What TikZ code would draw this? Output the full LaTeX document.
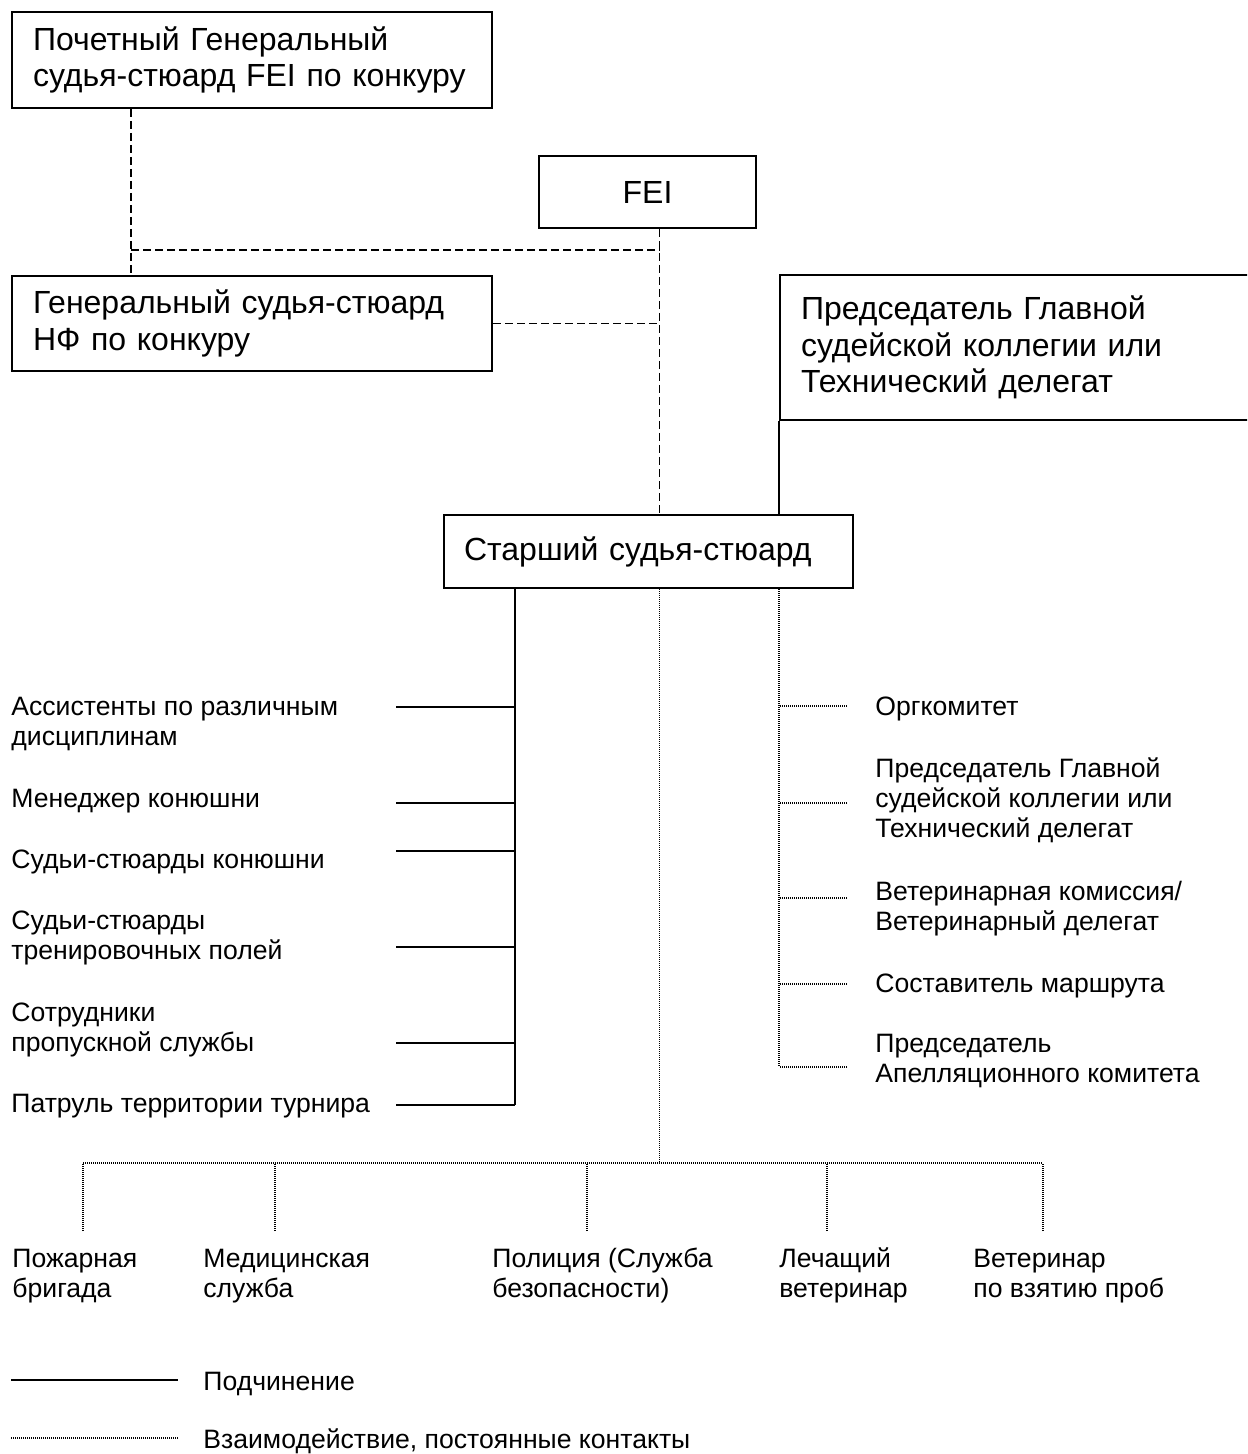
\documentclass[tikz,border=0pt]{standalone}
\usepackage{fontspec}
\setmainfont{Liberation Sans}
\usetikzlibrary{positioning}

\newcommand{\boxfont}{\fontsize{16}{18.3}\selectfont}
\newcommand{\listfont}{\fontsize{13.3}{15}\selectfont}

\begin{document}
\begin{tikzpicture}[x=0.5pt, y=-0.5pt]

\tikzset{
  post/.style={rectangle, draw=black, line width=1pt, font=\boxfont, align=left,
    anchor=north west, inner xsep=10.5pt, inner ysep=0pt},
  member/.style={font=\listfont, align=left, anchor=base west, inner sep=0pt},
  subord/.style={line width=1pt},
  link/.style={line width=0.7pt, dash pattern=on 4pt off 2pt},
  contact/.style={line width=0.6pt, dash pattern=on 0.5pt off 0.5pt},
}

\useasboundingbox (0,0) rectangle (1247,1454);
\clip (0,0) rectangle (1247,1454);

% upper boxes
\node (honor) [post, text width=219pt, minimum height=48pt] at (11,11) {Почетный Генеральный\\судья-стюард FEI по конкуру};
\node (fei) [post, align=center, minimum width=108.5pt, minimum height=36pt] at (538,155) {FEI};
\node (natfed) [post, text width=219pt, minimum height=47.5pt] at (11,275) {Генеральный судья-стюард\\НФ по конкуру};
\node (chair) [post, text width=224.5pt, minimum height=72.5pt] at (779,274) {Председатель Главной\\судейской коллегии или\\Технический делегат};
\node (senior) [post, text width=184.5pt, minimum height=36.5pt, inner xsep=10pt] at (443,514) {Старший судья-стюард};

\coordinate (hx) at ([xshift=60pt]honor.south west);
\coordinate (axis) at ([xshift=6pt]fei.south);
\coordinate (fork) at (hx |- 0,250);
\coordinate (spine) at ([xshift=36pt]senior.south west);

\draw [link] (hx) -- (hx |- natfed.north);
\draw [link] (fork) -- (fork -| axis);
\draw [link] (axis) -- (axis |- senior.north);
\draw [link] (natfed.east) -- (natfed.east -| axis);
\draw [subord] (chair.south west) -- (chair.south west |- senior.north);

% subordinates, left
\node (assist) [member] at (11,745) {Ассистенты по различным\\дисциплинам};
\node (stablemgr) [member] at (11,807) {Менеджер конюшни};
\node (stablestw) [member] at (11,868) {Судьи-стюарды конюшни};
\node (fieldstw) [member] at (11,959) {Судьи-стюарды\\тренировочных полей};
\node (passes) [member] at (11,1051) {Сотрудники\\пропускной службы};
\node (patrol) [member] at (11,1112) {Патруль территории турнира};

\coordinate (l1) at (396,707);
\coordinate (l2) at (396,803);
\coordinate (l3) at (396,851);
\coordinate (l4) at (396,947);
\coordinate (l5) at (396,1043);
\coordinate (l6) at (396,1105);

\draw [subord] (spine) -- (spine |- l6);
\draw [subord] (l1) -- (l1 -| spine);
\draw [subord] (l2) -- (l2 -| spine);
\draw [subord] (l3) -- (l3 -| spine);
\draw [subord] (l4) -- (l4 -| spine);
\draw [subord] (l5) -- (l5 -| spine);
\draw [subord] (l6) -- (l6 -| spine);

% contacts, right
\node (orgcom) [member] at (875,715) {Оргкомитет};
\node (judges) [member] at (875,837) {Председатель Главной\\судейской коллегии или\\Технический делегат};
\node (vetcom) [member] at (875,930) {Ветеринарная комиссия/\\Ветеринарный делегат};
\node (designer) [member] at (875,992) {Составитель маршрута};
\node (appeal) [member] at (875,1082) {Председатель\\Апелляционного комитета};

\coordinate (r1) at (847,706);
\coordinate (r2) at (847,803);
\coordinate (r3) at (847,898);
\coordinate (r4) at (847,984);
\coordinate (r5) at (847,1067);

\draw [contact] (chair.south west |- senior.south) -- (chair.south west |- r5);
\draw [contact] (r1) -- (r1 -| chair.south west);
\draw [contact] (r2) -- (r2 -| chair.south west);
\draw [contact] (r3) -- (r3 -| chair.south west);
\draw [contact] (r4) -- (r4 -| chair.south west);
\draw [contact] (r5) -- (r5 -| chair.south west);

% contacts, bottom
\node (fire) [member] at (12,1297) {Пожарная\\бригада};
\node (medic) [member] at (203,1297) {Медицинская\\служба};
\node (police) [member] at (492,1297) {Полиция (Служба\\безопасности)};
\node (vet) [member] at (779,1297) {Лечащий\\ветеринар};
\node (testvet) [member] at (973,1297) {Ветеринар\\по взятию проб};

\coordinate (bus) at (axis |- 0,1163);
\coordinate (d1) at (83,1231);
\coordinate (d2) at (275,1231);
\coordinate (d3) at (587,1231);
\coordinate (d4) at (827,1231);
\coordinate (d5) at (1043,1231);

\draw [contact] (axis |- senior.south) -- (bus);
\draw [contact] (d1 |- bus) -- (d5 |- bus);
\draw [contact] (d1) -- (d1 |- bus);
\draw [contact] (d2) -- (d2 |- bus);
\draw [contact] (d3) -- (d3 |- bus);
\draw [contact] (d4) -- (d4 |- bus);
\draw [contact] (d5) -- (d5 |- bus);

% legend
\coordinate (k1) at (11,1380);
\coordinate (k2) at (11,1438);
\node (subkey) [member] at (203,1390) {Подчинение};
\node (contkey) [member] at (203,1448) {Взаимодействие, постоянные контакты};
\draw [subord] (k1) -- ++(167,0);
\draw [contact] (k2) -- ++(167,0);

\end{tikzpicture}
\end{document}
